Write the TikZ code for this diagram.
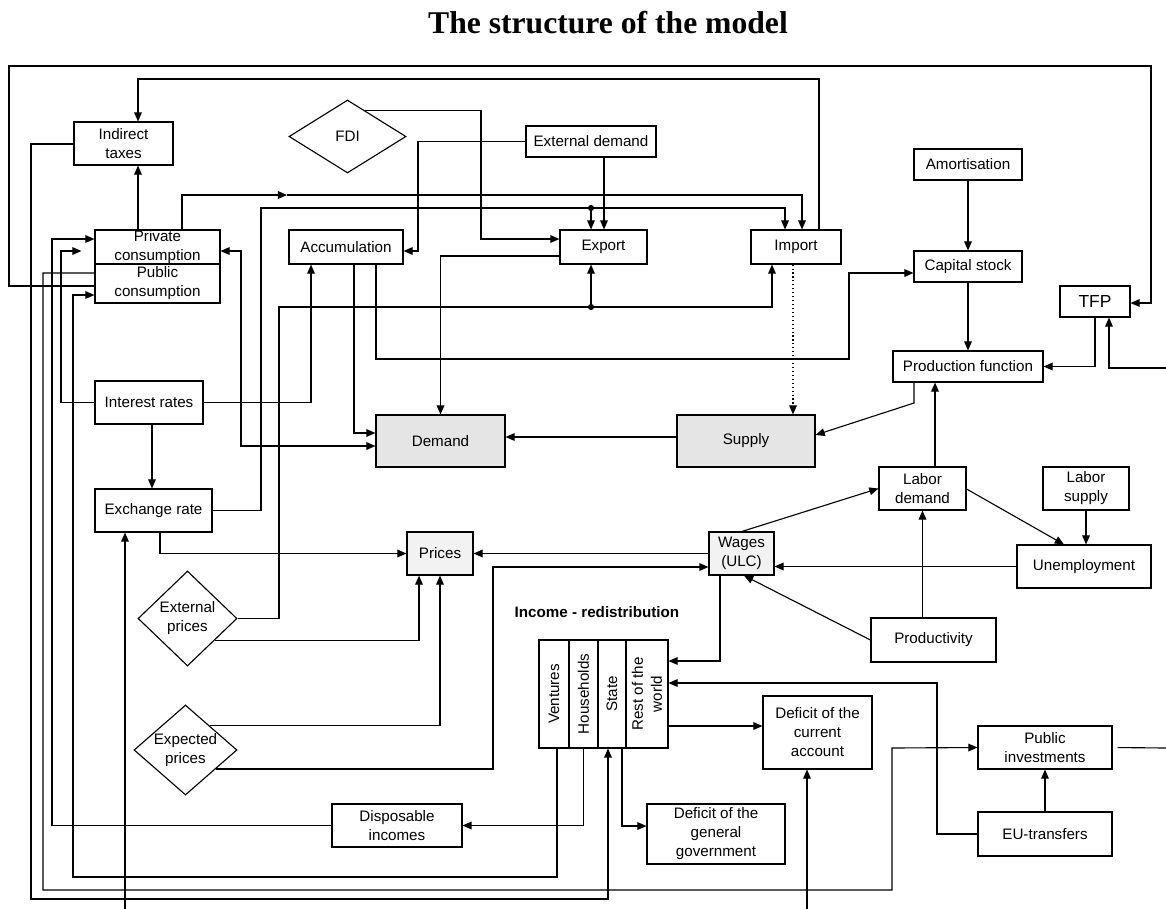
\documentclass[tikz,border=0pt]{standalone}
\usepackage{fontspec}
\setmainfont{Liberation Sans}
\newfontfamily\titlefont{Liberation Serif}
\usetikzlibrary{shapes.geometric,arrows.meta}

\newdimen\pxu
\pxu=0.025cm

\tikzset{
  box/.style 2 args={draw, rectangle, inner sep=0pt, align=center,
    minimum width=#1\pxu, minimum height=#2\pxu},
  rhomb/.style 2 args={draw, diamond, inner sep=0pt,
    minimum width=#1\pxu, minimum height=#2\pxu},
}

\begin{document}
\begin{tikzpicture}[x=0.025cm, y=-0.025cm, line width=0.8pt,
    >={Triangle[length=6.5pt,width=5.5pt]},
    font=\fontsize{10.8}{13.5}\selectfont]

    \useasboundingbox (0,0) rectangle (1166,909);

    % Title
    \node[anchor=base, font=\titlefont\bfseries\fontsize{22.5}{26}\selectfont] (title) at (608,33) {The structure of the model};

    % Step 1: Demand side
    \node[box={99}{43}] (itax) at (123.5,143.5) {Indirect\\taxes};
    \node[rhomb={117}{73}] (fdi) at (347.5,136.5) {FDI};
    \node[box={130}{31}] (extd) at (591,141.5) {External demand};
    \node[box={125}{34}] (pcpriv) at (157.5,247) {Private\\consumption};
    \node[box={125}{39}] (pcpub) at (157.5,283.5) {Public\\consumption};
    \node[box={114}{34}] (acc) at (346,247) {Accumulation};
    \node[box={87}{34}] (export) at (603.5,247) {Export};
    \node[box={90}{34}] (import) at (796,247) {Import};
    \node[box={108}{43}] (intr) at (149,402.5) {Interest rates};
    \node[box={117}{43}] (exch) at (153.5,510.5) {Exchange rate};
    \node[box={129}{52}, fill=gray!20] (dem) at (440.5,441) {Demand};
    \node[box={138}{52}, fill=gray!20] (sup) at (746,441) {Supply};

    % Step 2: Supply side
    \node[box={108}{31}] (amort) at (968,164.5) {Amortisation};
    \node[box={108}{31}] (cap) at (968,266.5) {Capital stock};
    \node[box={70}{31}, font=\fontsize{12.4}{14}\selectfont] (tfp) at (1095,301.5) {TFP};
    \node[box={150}{31}] (prod) at (968,366.5) {Production function};
    \node[box={87}{43}] (labd) at (922.5,488.5) {Labor\\demand};
    \node[box={86}{43}] (labs) at (1086,488.5) {Labor\\supply};
    \node[box={134}{43}] (unemp) at (1084,566.5) {Unemployment};
    \node[box={125}{44}] (prodv) at (933.5,640) {Productivity};

    % Step 3: Prices and wages
    \node[box={66}{43}, fill=gray!10] (prices) at (440,553.5) {Prices};
    \node[box={65}{43}, fill=gray!10] (wages) at (741.5,553.5) {Wages\\(ULC)};
    \node[rhomb={99}{95}, label={[align=center]center:External\\prices}] (extp) at (187.5,618.5) {};
    \node[rhomb={103}{90}, label={[align=center]center:Expected\\prices}] (expp) at (185.5,750) {};

    % Step 4: Income - redistribution
    \node[anchor=base, font=\fontsize{10.8}{13.5}\selectfont\bfseries] (inclab) at (597,617) {Income - redistribution};
    \node[box={30}{108}, label={[rotate=90]center:Ventures}] (vent) at (554,694) {};
    \node[box={29}{108}, label={[rotate=90]center:Households}] (hh) at (583.5,694) {};
    \node[box={28}{108}, label={[rotate=90]center:State}] (state) at (612,694) {};
    \node[box={42}{108}, label={[rotate=90,align=center]center:Rest of the\\world}] (row) at (647,694) {};
    \node[box={109}{73}] (dca) at (817.5,732.5) {Deficit of the\\current\\account};
    \node[box={134}{43}] (pinv) at (1045,747.5) {Public\\investments};
    \node[box={130}{43}] (disp) at (397,825.5) {Disposable\\incomes};
    \node[box={138}{60}] (dgg) at (716,834) {Deficit of the\\general\\government};
    \node[box={134}{44}] (eut) at (1045,834) {EU-transfers};

    % free ends and junctions
    \coordinate (inEX) at (125,909);
    \coordinate (inDCA) at (807,909);
    \coordinate (inTFP) at (1166,368);
    \coordinate (outPI) at (1166,748);
    \coordinate (jtop) at (591,208);
    \coordinate (jbot) at (591,307);

    % Outer loops
    \draw[->] (pcpub.west |- 0,286) -| (9,66) -| (1151,303) -- (tfp.east |- 0,303);
    \draw[->] (import.north -| 819,0) |- (138,79) -- (itax.north -| 138,0);
    \draw[->] (itax.west |- 0,144) -| (31,899) -| (state.south -| 608,0);
    \draw[->] (pcpub.west |- 0,273) -| (43,890) -| (892,748) -- (pinv.west);
    \draw[->] (disp.west) -| (52,239) -- (pcpriv.west |- 0,239);
    \draw[->, shorten >=13\pxu] (intr.west) -| (61,251) -- (pcpriv.west |- 0,251);
    \draw[->] (vent.south -| 557,0) |- (73,877) |- (pcpub.west |- 0,295);

    % Demand block
    \draw[->] (pcpriv.north -| 138,0) -- (itax.south -| 138,0);
    \draw[->] (pcpriv.north -| 182,0) |- (287,195);
    \draw[->] (287,195) -| (import.north -| 802,0);
    \draw[->] (exch.east) -| (261,208) -| (import.north -| 785,0);
    \fill (jtop) circle (2.2pt);
    \draw[->] (jtop) -- (export.north -| jtop);
    \draw[->] (acc.south -| 354,0) |- (dem.west |- 0,433);
    \draw[<->] (pcpriv.east |- 0,251) -| (241,446) -- (dem.west |- 0,446);
    \draw[->] (acc.south -| 376,0) |- (849,359) |- (cap.west |- 0,273);
    \draw[->] (intr.east) -| (acc.south -| 311,0);
    \draw[->] (intr.south -| 152,0) -- (exch.north -| 152,0);
    \draw[->] (extd.south -| 604,0) -- (export.north -| 604,0);
    \draw[->] (extd.west) -| (418,251) -- (acc.east |- 0,251);
    \draw[->] (fdi.57) -| (481,239) -- (export.west |- 0,239);
    \draw[->] (export.west |- 0,256) -| (dem.north);
    \draw[->] (extp.east) -| (279,307) -| (import.south -| 772,0);
    \fill (jbot) circle (2.2pt);
    \draw[->] (jbot) -- (export.south -| jbot);
    \draw[->, dotted] (import.south -| 793,0) -- (sup.north -| 793,0);
    \draw[->] (sup.west |- 0,437) -- (dem.east |- 0,437);

    % Supply block
    \draw[->] (amort) -- (cap);
    \draw[->] (cap) -- (prod);
    \draw[->] (tfp.south) |- (prod.east);
    \draw[->] (inTFP) -| (tfp.south -| 1109,0);
    \draw[->] (prod.south -| 914,0) -- (914,403) -- (sup.east |- 0,435);
    \draw[->] (labd.north -| 935,0) -- (prod.south -| 935,0);
    \draw[->] (wages.north -| 742,0) -- (labd.west);
    \draw[->] (labd.east |- 0,489) -- (unemp.north -| 1064,0);
    \draw[->] (labs.south) -- (labs.south |- unemp.north);
    \draw[->] (unemp.west) -- (unemp.west -| wages.east);
    \draw[->] (labd.south |- prodv.north) -- (labd.south);
    \draw[->] (prodv.west) -- (wages.south -| 744,0);

    % Prices
    \draw[->] (wages.west) -- (prices.east);
    \draw[->] (expp.-32) -| (493,567) -- (wages.west |- 0,567);
    \draw[->] (expp.45) -| (prices.south);
    \draw[->] (extp.-38) -| (prices.south -| 419,0);
    \draw[->] (exch.south -| 160,0) |- (prices.west);
    \draw[->] (inEX) -- (exch.south -| inEX);

    % Redistribution
    \draw[->] (inDCA) -- (dca.south -| inDCA);
    \draw[->] (wages.south -| 720,0) |- (row.east |- 0,661);
    \draw[->] (eut.west) -| (937,683) -- (row.east |- 0,683);
    \draw[->] (row.east |- 0,726) -- (dca.west |- 0,726);
    \draw[->] (state.south -| 622,0) |- (dgg.west |- 0,826);
    \draw[->] (hh.south) |- (disp.east);
    \draw[->] (eut) -- (pinv);
    \draw[shorten <=5\pxu] (pinv.east) -- (outPI);

\end{tikzpicture}
\end{document}
